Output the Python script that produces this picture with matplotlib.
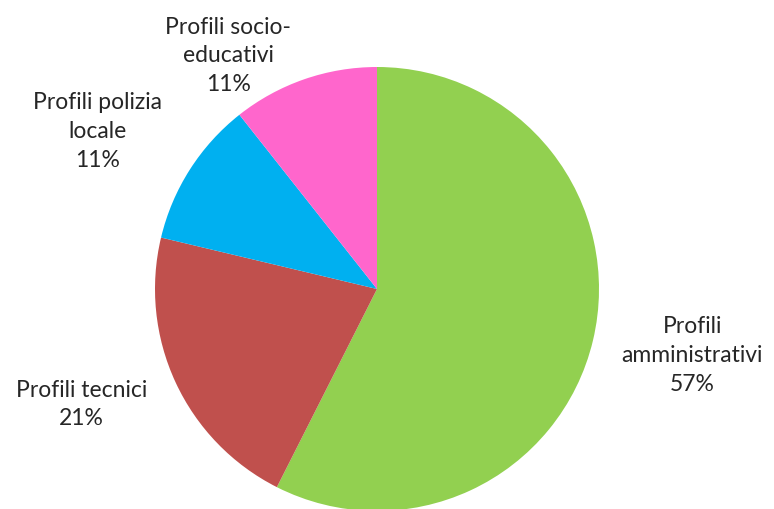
import matplotlib
matplotlib.use('Agg')
import matplotlib.pyplot as plt

labels = ['Profili\namministrativi', 'Profili tecnici', 'Profili polizia\nlocale', 'Profili socio-\neducativi']
values = [54, 20, 10, 10]
colors = ['#92D050', '#C0504D', '#00B0F0', '#FF66CC']
# label centres in radius units
label_pos = [(1.42, -0.30), (-1.33, -0.52), (-1.26, 0.71), (-0.67, 1.05)]

plt.rcParams['font.family'] = ['Lato', 'DejaVu Sans']

fig = plt.figure(figsize=(7.74, 5.09), dpi=100)
ax = fig.add_axes([155 / 774, -2 / 509, 444 / 774, 444 / 509])
ax.pie(values, colors=colors, startangle=90, counterclock=False, radius=1,
       wedgeprops={'linewidth': 0})
ax.set_xlim(-1, 1)
ax.set_ylim(-1, 1)
ax.set_aspect('equal')
ax.axis('off')

total = sum(values)
for lab, v, (x, y) in zip(labels, values, label_pos):
    ax.text(x, y, f'{lab}\n{round(100 * v / total)}%', ha='center', va='center',
            fontsize=16.5, linespacing=1.45, color='#262626', clip_on=False)

fig.savefig('out.png', dpi=100)
